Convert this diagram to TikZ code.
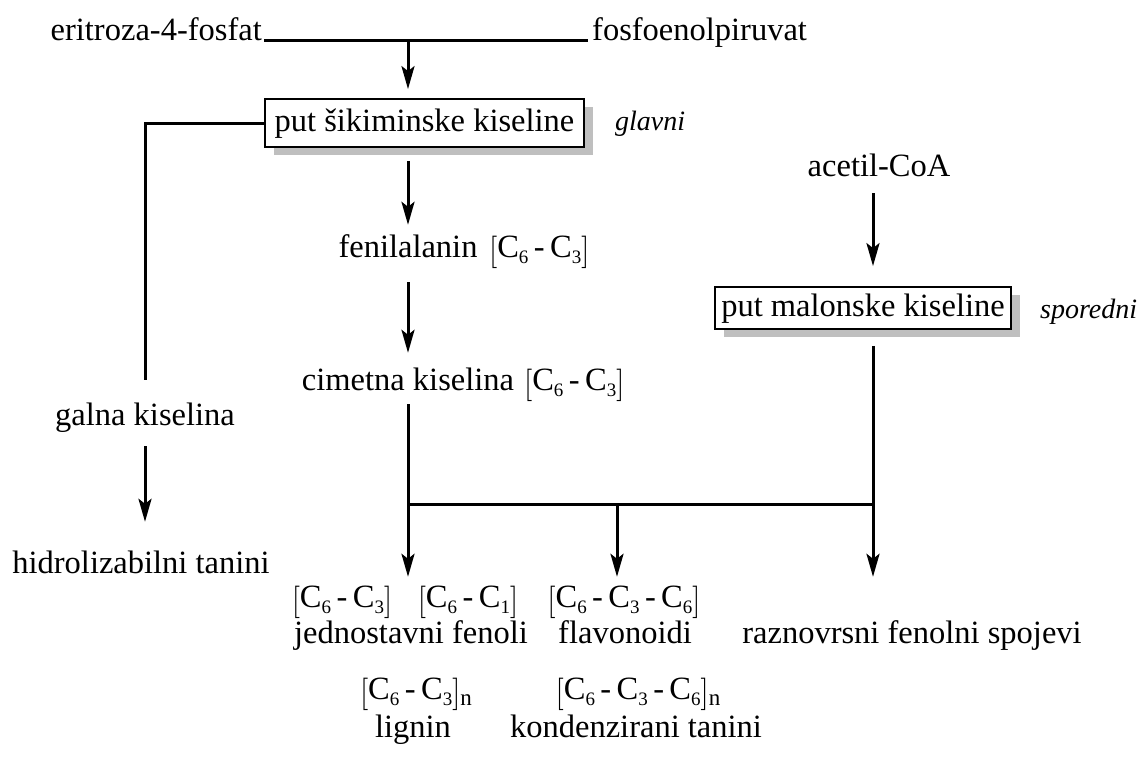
\documentclass[tikz,border=0pt]{standalone}
\usepackage{fix-cm}
\usepackage{fontspec}
\setmainfont{Liberation Serif}
\usetikzlibrary{arrows.meta,shadows}

\newcommand{\Cs}[1]{C\raisebox{-6pt}{\fontsize{19}{19}\selectfont #1}}
\newcommand{\Cgrp}[1]{\raisebox{-3pt}{$\bigl[$}#1\raisebox{-3pt}{$\bigr]$}}
\newcommand{\Cgrpn}[1]{\raisebox{-3pt}{$\bigl[$}#1\raisebox{-3pt}{$\bigr]$}\raisebox{-6pt}{\fontsize{23}{23}\selectfont n}}

\tikzstyle{txt} = [inner sep=0pt, text height=22pt, text depth=7pt, font=\fontsize{32.5}{39}\selectfont]
\tikzstyle{note} = [inner sep=0pt, font=\fontsize{28}{33}\selectfont\itshape]
\tikzstyle{boxNode} = [rectangle, draw=black, line width=1.8pt, fill=white, inner sep=0pt, text height=23pt, text depth=7pt, font=\fontsize{32.5}{39}\selectfont, drop shadow={shadow xshift=9pt, shadow yshift=-8pt, fill=black!25, opacity=1}]
\tikzstyle{conn} = [line width=3pt]
\tikzstyle{arrow} = [line width=3pt, -{Stealth[length=23pt,width=13pt,inset=5pt]}]

\begin{document}
\begin{tikzpicture}[x=1pt,y=-1pt]
    \useasboundingbox (0,0) rectangle (1141,761);

    \node (eri)[txt, anchor=base east] at (262,40) {eritroza-4-fosfat};
    \node (fos)[txt, anchor=base west] at (592,40) {fosfoenolpiruvat};
    \coordinate (split) at (408,40);
    \node (sik)[boxNode, minimum width=319pt, minimum height=48pt] at (424.5,123) {put šikiminske kiseline};
    \node (glavni)[note, anchor=base west] at (615,130) {glavni};
    \node (acetil)[txt, anchor=base] at (879,176) {acetil-CoA};
    \node (fen)[txt, anchor=base] at (408,257) {fenilalanin};
    \node (fenf)[txt, anchor=base west] at (489,257) {\Cgrp{\Cs{6}\,-\,\Cs{3}}};
    \node (mal)[boxNode, minimum width=296pt, minimum height=42pt] at (863,308) {put malonske kiseline};
    \node (spor)[note, anchor=base west] at (1040,318) {sporedni};
    \node (cim)[txt, anchor=base] at (408,390) {cimetna kiselina};
    \node (cimf)[txt, anchor=base west] at (524,390) {\Cgrp{\Cs{6}\,-\,\Cs{3}}};
    \node (galna)[txt, anchor=base] at (145,425) {galna kiselina};
    \node (hidro)[txt, anchor=base] at (141,573) {hidrolizabilni tanini};
    \coordinate (jm) at (617,504);
    \coordinate (rx) at (873,504);

    \node (f1)[txt, anchor=base] at (342,607) {\Cgrp{\Cs{6}\,-\,\Cs{3}}};
    \node (f2)[txt, anchor=base] at (468,607) {\Cgrp{\Cs{6}\,-\,\Cs{1}}};
    \node (f3)[txt, anchor=base] at (624,607) {\Cgrp{\Cs{6}\,-\,\Cs{3}\,-\,\Cs{6}}};
    \node (jed)[txt, anchor=base] at (411,643) {jednostavni fenoli};
    \node (flav)[txt, anchor=base] at (625,643) {flavonoidi};
    \node (razn)[txt, anchor=base] at (912,643) {raznovrsni fenolni spojevi};
    \node (f4)[txt, anchor=base] at (416,699) {\Cgrpn{\Cs{6}\,-\,\Cs{3}}};
    \node (lig)[txt, anchor=base] at (413,737) {lignin};
    \node (f5)[txt, anchor=base] at (638,699) {\Cgrpn{\Cs{6}\,-\,\Cs{3}\,-\,\Cs{6}}};
    \node (kond)[txt, anchor=base] at (636,737) {kondenzirani tanini};

    \draw [conn, shorten <=2pt, shorten >=4pt] (eri.base east) -- (fos.base west);
    \draw [arrow, shorten >=9pt] (split) -- (split |- sik.north);
    \draw [conn, shorten >=23pt] (sik.west) -| (galna.north);
    \draw [arrow, shorten <=14pt, shorten >=29pt] (galna.south) -- (galna.south |- hidro.north);
    \draw [arrow, shorten <=13pt, shorten >=10pt] (fen.north |- sik.south) -- (fen.north);
    \draw [arrow, shorten <=18pt, shorten >=15pt] (fen.south) -- (cim.north);
    \draw [arrow, shorten <=10pt, shorten >=20pt] (rx |- acetil.south) -- (rx |- mal.north);
    \draw [arrow, shorten <=7pt, shorten >=8pt] (cim.south) -- (cim.south |- f1.north);
    \draw [conn] (cim.south |- jm) -- (rx);
    \draw [arrow, shorten >=8pt] (jm) -- (jm |- f3.north);
    \draw [arrow, shorten <=16pt, shorten >=8pt] (rx |- mal.south) -- (rx |- f3.north);

\end{tikzpicture}
\end{document}
